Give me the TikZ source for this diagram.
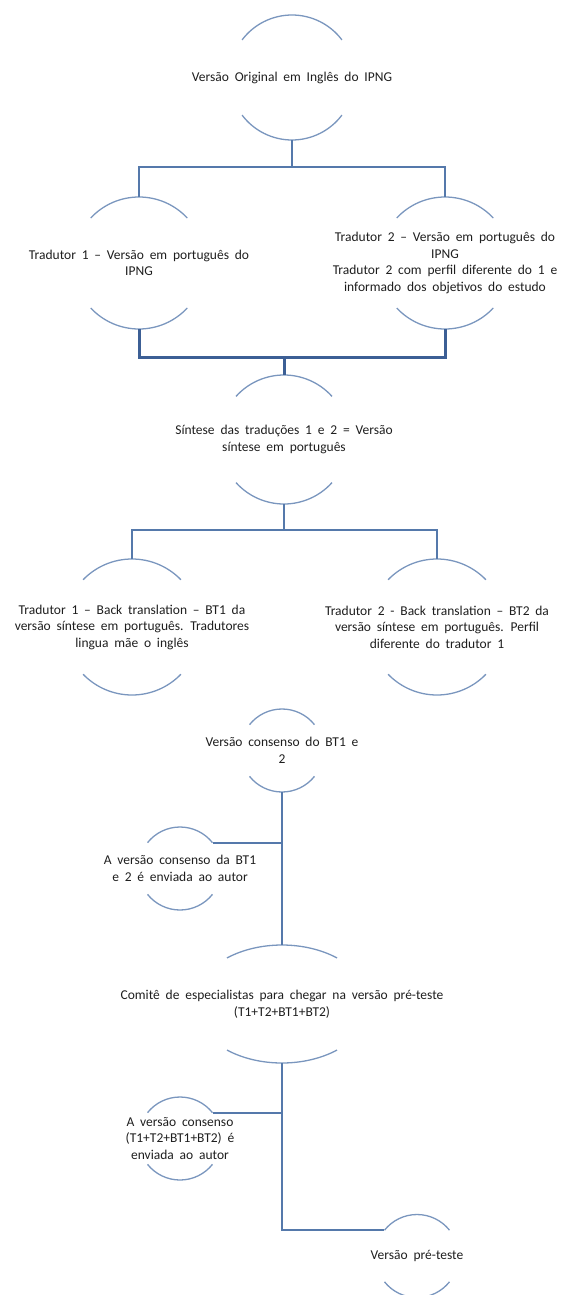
\documentclass[tikz,border=0pt]{standalone}
\usepackage{fontspec}
\setmainfont[WordSpace={1.9}]{Carlito}
\usetikzlibrary{shapes.geometric}
\definecolor{rimblue}{HTML}{7A96BE}
\definecolor{lineblue}{HTML}{5579AB}
\definecolor{linedark}{HTML}{3C5F95}
\definecolor{ink}{HTML}{1E1E1E}
% top and bottom arcs of a bubble: node, x radius, y radius, half angle
\newcommand{\rims}[4]{%
  \draw[rim] (#1.north) arc[start angle=90,end angle=90-#4,x radius=#2,y radius=#3]
             (#1.north) arc[start angle=90,end angle=90+#4,x radius=#2,y radius=#3]
             (#1.south) arc[start angle=270,end angle=270-#4,x radius=#2,y radius=#3]
             (#1.south) arc[start angle=270,end angle=270+#4,x radius=#2,y radius=#3];}

\begin{document}
\begin{tikzpicture}[x=1pt,y=1pt,
  bub/.style={ellipse,inner sep=0pt,outer sep=0pt},
  lbl/.style={font=\fontsize{13.5}{16.5}\selectfont,text=ink,align=center,inner sep=0pt},
  rim/.style={draw=rimblue,line width=1.3pt},
  conn/.style={draw=lineblue,line width=2pt}]
  \useasboundingbox (0,0) rectangle (560,-1295);

  % Original version
  \node[bub,minimum size=125pt] (v0) at (292,-77.5) {};
  \node[lbl] (v0t) at (v0) {Versão Original em Inglês do IPNG};
  \rims{v0}{62.5pt}{62.5pt}{53}

  % Translators
  \node[bub,minimum size=132pt] (t1) at (139,-263) {};
  \node[lbl] (t1t) at (t1) {Tradutor 1 – Versão em português do\\IPNG};
  \rims{t1}{66pt}{66pt}{47}
  \node[bub,minimum size=132pt] (t2) at (445,-263) {};
  \node[lbl] (t2t) at (t2) {Tradutor 2 – Versão em português do\\IPNG\\Tradutor 2 com perfil diferente do 1 e\\informado dos objetivos do estudo};
  \rims{t2}{66pt}{66pt}{47}

  % Synthesis
  \node[bub,minimum size=129pt] (syn) at (284,-439.5) {};
  \node[lbl] (synt) at (syn) {Síntese das traduções 1 e 2 = Versão\\síntese em português};
  \rims{syn}{64.5pt}{64.5pt}{48}

  % Back translations
  \node[bub,minimum size=136pt] (bt1) at (132,-627) {};
  \node[lbl] (bt1t) at (bt1) {Tradutor 1 – Back translation – BT1 da\\versão síntese em português. Tradutores\\lingua mãe o inglês};
  \rims{bt1}{68pt}{68pt}{46}
  \node[bub,minimum size=136pt] (bt2) at (437,-627) {};
  \node[lbl] (bt2t) at (bt2) {Tradutor 2 - Back translation – BT2 da\\versão síntese em português. Perfil\\diferente do tradutor 1};
  \rims{bt2}{68pt}{68pt}{46}

  % Consensus
  \node[bub,minimum size=83pt] (cons) at (282,-750.5) {};
  \node[lbl] (const) at (cons) {Versão consenso do BT1 e\\2};
  \rims{cons}{41.5pt}{41.5pt}{51.5}
  \node[bub,minimum size=83pt] (env1) at (180,-868.5) {};
  \node[lbl] (env1t) at (env1) {A versão consenso da BT1\\e 2 é enviada ao autor};
  \rims{env1}{41.5pt}{41.5pt}{51.5}

  % Committee
  \node[bub,minimum width=176pt,minimum height=118pt] (cmt) at (282,-1004) {};
  \node[lbl] (cmtt) at (cmt) {Comitê de especialistas para chegar na versão pré-teste\\(T1+T2+BT1+BT2)};
  \rims{cmt}{88pt}{59pt}{38.7}
  \node[bub,minimum size=83pt] (env2) at (180,-1138.5) {};
  \node[lbl] (env2t) at (env2) {A versão consenso\\(T1+T2+BT1+BT2) é\\enviada ao autor};
  \rims{env2}{41.5pt}{41.5pt}{51.5}

  % Pre-test
  \node[bub,minimum size=83pt] (pre) at (417,-1256) {};
  \node[lbl] (pret) at (pre) {Versão pré-teste};
  \rims{pre}{41.5pt}{41.5pt}{51.5}

  % Connectors
  \coordinate (j1) at (292,-167);
  \coordinate (j2) at (284,-357);
  \coordinate (j3) at (284,-530);
  \draw[conn] (v0.south) -- (j1);
  \draw[conn] (t1.north) |- (j1) -| (t2.north);
  \draw[conn,draw=linedark,line width=3pt] (t1.south) |- (j2) -| (t2.south);
  \draw[conn,draw=linedark,line width=3pt] (j2) -- (syn.north);
  \draw[conn] (syn.south) -- (j3);
  \draw[conn] (bt1.north) |- (j3) -| (bt2.north);
  \draw[conn] (cons.south) -- (cmt.north);
  \draw[conn] (env1.38) -- (env1.38 -| cons.south);
  \draw[conn] (cmt.south) |- (pre.142);
  \draw[conn] (env2.38) -- (env2.38 -| cmt.south);
\end{tikzpicture}
\end{document}
